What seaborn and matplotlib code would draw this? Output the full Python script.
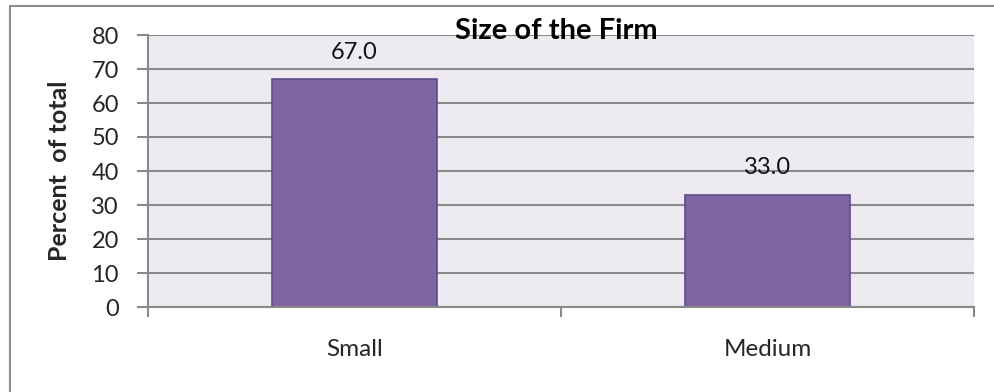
import matplotlib
matplotlib.use("Agg")
import matplotlib.pyplot as plt
from matplotlib.lines import Line2D
import seaborn as sns
import pandas as pd

categories = ["Small", "Medium"]
percent = [67.0, 33.0]
y_ticks = [0, 10, 20, 30, 40, 50, 60, 70, 80]

sns.set_theme(style="white")
plt.rcParams["font.family"] = ["Lato", "DejaVu Sans"]

W, H = 995, 392
fig = plt.figure(figsize=(W / 100, H / 100), dpi=100)
fig.patch.set_facecolor("white")

# outer chart frame (top and left edges)
fig.add_artist(Line2D([10 / W, 1.0], [1 - 5.5 / H, 1 - 5.5 / H], color="#8c8c8c", lw=1.5))
fig.add_artist(Line2D([10 / W, 10 / W], [0, 1 - 5.5 / H], color="#8c8c8c", lw=1.5))

ax = fig.add_axes([148 / W, (H - 307) / H, 826 / W, 272 / H])
ax.set_facecolor("#edebf1")

df = pd.DataFrame({"size": categories, "pct": percent})
sns.barplot(data=df, x="size", y="pct", ax=ax, color="#8064a2",
            saturation=1, width=0.40, edgecolor="#5f4a8b", linewidth=1.2, zorder=3)

ax.set_xlim(-0.5, 1.5)
ax.set_ylim(0, 80)
ax.set_yticks(y_ticks)
ax.yaxis.grid(True, color="#8a8a8a", lw=1.5, zorder=1)
ax.set_axisbelow(True)

for s in ["top", "right"]:
    ax.spines[s].set_visible(False)
for s in ["left", "bottom"]:
    ax.spines[s].set_color("#8a8a8a")
    ax.spines[s].set_linewidth(1.5)
    ax.spines[s].set_zorder(4)

ax.tick_params(axis="y", which="major", length=8, width=1.5, color="#8a8a8a",
               labelsize=17, pad=13, left=True)
ax.set_yticklabels([str(v) for v in y_ticks])

# category boundaries carry the tick marks, centres carry the labels
ax.set_xticks([-0.5, 0.5, 1.5])
ax.set_xticklabels(["", "", ""])
ax.tick_params(axis="x", which="major", length=7, width=1.5, color="#8a8a8a", bottom=True)
ax.set_xticks([0, 1], minor=True)
ax.set_xticklabels(categories, minor=True)
ax.tick_params(axis="x", which="minor", length=0, labelsize=17.5, pad=23)

for i, v in enumerate(percent):
    ax.annotate(f"{v:.1f}", (i, v), xytext=(0, 12), textcoords="offset points",
                ha="center", va="bottom", fontsize=17, color="#111111", zorder=5)

ax.set_xlabel("")
ax.set_ylabel("Percent  of total", fontsize=18, fontweight="bold")
ax.yaxis.set_label_coords(-(148 - 71) / 826, 0.5)

fig.text(556 / W, 1 - 31 / H, "Size of the Firm", ha="center", va="center",
         fontsize=21, fontweight="bold", color="black")

fig.savefig("out.png", dpi=100)
